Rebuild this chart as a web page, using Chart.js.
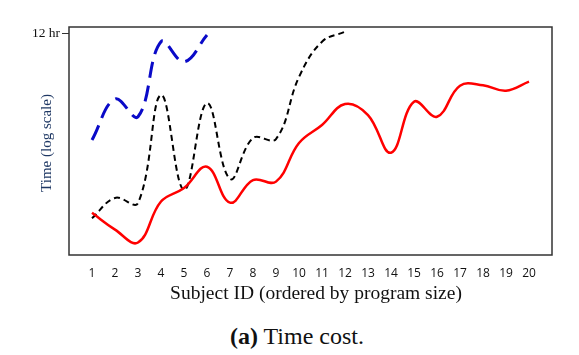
<!DOCTYPE html>
<html>
<head>
<meta charset="utf-8">
<script src="https://cdn.jsdelivr.net/npm/chart.js@4"></script>
<style>
  html, body { margin: 0; padding: 0; background: #fff; }
  #wrap { position: relative; width: 579px; height: 355px; }
  #c { position: absolute; left: 0; top: 0; }
  #caption { position: absolute; left: 0; width: 594px; top: 322px; line-height: 28px; text-align: center;
    font-family: "Liberation Serif", serif; font-size: 24px; color: #111; }
</style>
</head>
<body>
<div id="wrap">
  <canvas id="c" width="579" height="310"></canvas>
  <div id="caption"><b>(a)</b> Time cost.</div>
</div>
<script>
// Subject IDs (x categories)
const subjects = [1,2,3,4,5,6,7,8,9,10,11,12,13,14,15,16,17,18,19,20];
// Time in seconds (log scale)
const redSeries   = [49, 26, 16, 75, 125, 279, 72, 169, 159, 682, 1345, 2970, 1960, 473, 3240, 1840, 5920, 6010, 4900, 6890];
const blackSeries = [40, 86, 71, 4170, 116, 3080, 176, 824, 793, 8220, 31100, 45300];
const blueSeries  = [764, 3580, 1840, 31100, 14600, 40000];
const yTickValues = [43200];
const yTickLabels = ['12 hr'];

const toPts = arr => arr.map((v, i) => ({ x: subjects[i], y: v }));

const boxPlugin = {
  id: 'box',
  afterDraw(chart) {
    const { ctx, chartArea: a } = chart;
    ctx.save();
    ctx.strokeStyle = '#333';
    ctx.lineWidth = 1.5;
    ctx.strokeRect(a.left, a.top, a.right - a.left, a.bottom - a.top);
    // axis titles
    ctx.fillStyle = '#111';
    ctx.font = '19.5px "Liberation Serif"';
    ctx.textAlign = 'center';
    ctx.textBaseline = 'middle';
    ctx.fillText('Subject ID (ordered by program size)', 316, 294);
    ctx.translate(47, 143);
    ctx.rotate(-Math.PI / 2);
    ctx.fillStyle = '#1f3864';
    ctx.font = '15px "Liberation Serif"';
    ctx.fillText('Time (log scale)', 0, 0);
    ctx.restore();
  }
};

new Chart(document.getElementById('c'), {
  type: 'line',
  data: {
    datasets: [
      { data: toPts(redSeries), borderColor: '#ff0000', borderWidth: 2.5, tension: 0.4, pointRadius: 0, fill: false },
      { data: toPts(blackSeries), borderColor: '#000000', borderWidth: 2, borderDash: [6, 4], tension: 0.4, pointRadius: 0, fill: false },
      { data: toPts(blueSeries), borderColor: '#0a0ac8', borderWidth: 3, borderDash: [16, 8], tension: 0.4, pointRadius: 0, fill: false }
    ]
  },
  options: {
    responsive: false,
    devicePixelRatio: 1,
    animation: false,
    layout: { padding: { top: 27, right: 27, left: 0, bottom: 0 } },
    plugins: { legend: { display: false }, tooltip: { enabled: false }, title: { display: false } },
    scales: {
      x: {
        type: 'linear', min: 0, max: 21,
        grid: { display: true, drawOnChartArea: false, drawTicks: false },
        border: { display: false },
        afterBuildTicks: s => { s.ticks = subjects.map(v => ({ value: v })); },
        afterFit: s => { s.height = 55; },
        ticks: { padding: 11, color: '#111', font: { family: '"Open Sans"', size: 12 }, autoSkip: false, maxRotation: 0 }
      },
      y: {
        type: 'logarithmic', min: 10, max: 54200,
        grid: { drawOnChartArea: false, drawTicks: true, tickLength: 7, color: '#333' },
        border: { display: false },
        afterBuildTicks: s => { s.ticks = yTickValues.map(v => ({ value: v })); },
        afterFit: s => { s.width = 69; },
        ticks: {
          padding: 2, color: '#111', font: { family: '"Liberation Serif"', size: 13.5 },
          callback: (v) => { const i = yTickValues.indexOf(v); return i >= 0 ? yTickLabels[i] : ''; }
        }
      }
    }
  },
  plugins: [boxPlugin]
});
</script>
</body>
</html>
